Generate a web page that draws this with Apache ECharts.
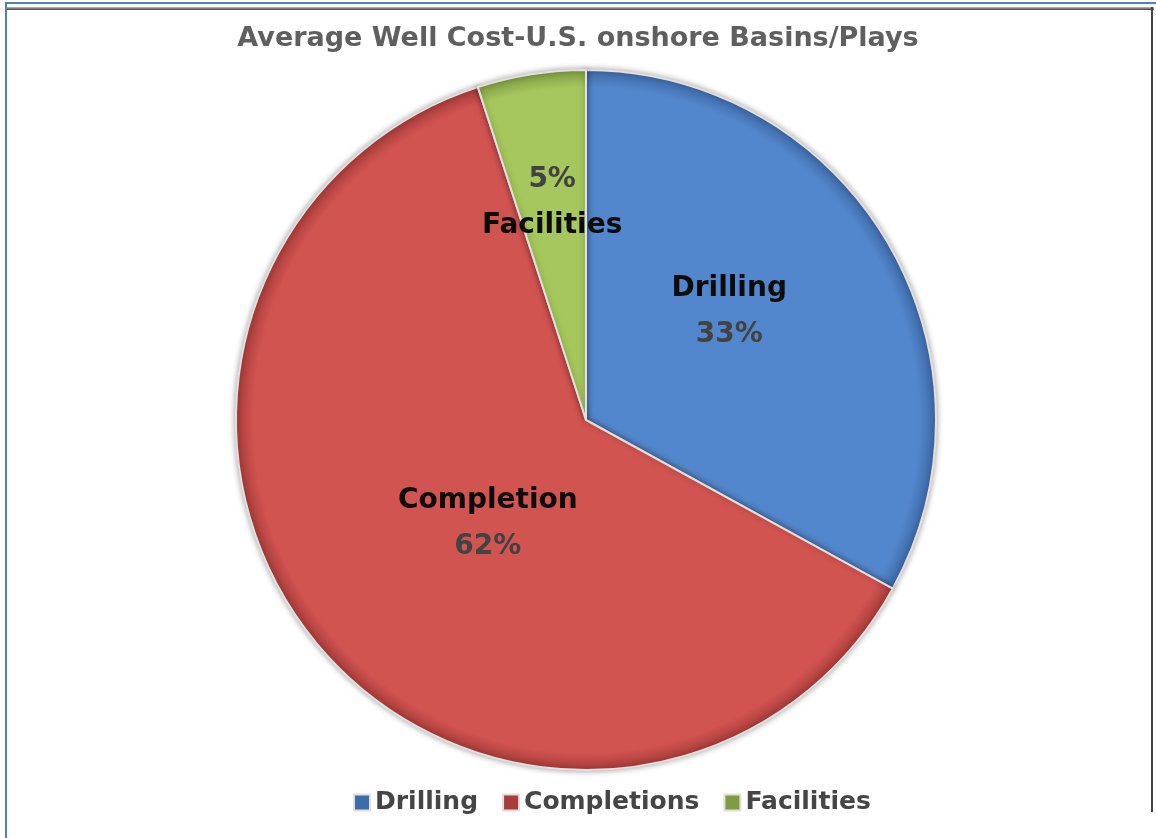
<!DOCTYPE html>
<html>
<head>
<meta charset="utf-8">
<script src="https://cdn.jsdelivr.net/npm/echarts@6/dist/echarts.min.js"></script>
<style>
  html, body { margin: 0; padding: 0; background: #ffffff; }
  #frame { position: absolute; left: 0; top: 0; width: 1156px; height: 838px; overflow: hidden; }
  #blueTop { position: absolute; left: 5px; top: 2px; width: 1151px; height: 2px; background: #4f81bd; }
  #blueLeft { position: absolute; left: 5px; top: 2px; width: 2px; height: 836px; background: #4f81bd; }
  #grayTop { position: absolute; left: 7px; top: 7px; width: 1147px; height: 3px;
             background: linear-gradient(#bdbdbd, #404040); }
  #grayRight { position: absolute; left: 1151px; top: 7px; width: 2px; height: 805px; background: #454545; }
  #chart { position: absolute; left: 0; top: 0; width: 1156px; height: 838px; }
</style>
</head>
<body>
<div id="frame">
  <div id="chart"></div>
  <div id="blueTop"></div>
  <div id="blueLeft"></div>
  <div id="grayTop"></div>
  <div id="grayRight"></div>
</div>
<script>
// Cost breakdown of an average onshore well
const legendNames = ['Drilling', 'Completions', 'Facilities'];
const sliceLabels = ['Drilling', 'Completion', 'Facilities'];
const shares = [33, 62, 5];
const titleText = 'Average Well Cost-U.S. onshore Basins/Plays';

const sliceColors = ['#5387cd', '#d25451', '#a6c75d'];
const rimColors = ['#3e6aa8', '#a83c3a', '#7f9c43'];
// label nudges away from the default mid-radius spot
const labelOffsets = [[-10, -18], [39, -10], [-6, -41]];

const FONT = '"DejaVu Sans", "Open Sans", sans-serif';

function sliceFill(i) {
  return {
    type: 'radial', x: 586, y: 420, r: 350, global: true,
    colorStops: [
      { offset: 0, color: sliceColors[i] },
      { offset: 0.95, color: sliceColors[i] },
      { offset: 1, color: rimColors[i] }
    ]
  };
}

const pieData = legendNames.map((name, i) => ({
  name: name,
  value: shares[i],
  itemStyle: { color: sliceFill(i) },
  label: {
    offset: labelOffsets[i],
    formatter: i === 2
      ? '{p|' + shares[i] + '%}\n{n|' + sliceLabels[i] + '}'
      : '{n|' + sliceLabels[i] + '}\n{p|' + shares[i] + '%}'
  }
}));

const chart = echarts.init(document.getElementById('chart'), null, { renderer: 'canvas' });
chart.setOption({
  backgroundColor: '#ffffff',
  animation: false,
  color: sliceColors,
  title: {
    text: titleText,
    left: 573,
    top: 20,
    textAlign: 'center',
    textStyle: { fontFamily: FONT, fontWeight: 'bold', fontSize: 27, color: '#5f5f5f' }
  },
  legend: {
    data: legendNames,
    bottom: 18,
    left: 348,
    itemWidth: 16,
    itemHeight: 16,
    itemGap: 24,
    icon: 'rect',
    textStyle: { fontFamily: FONT, fontWeight: 'bold', fontSize: 25, color: '#454545' }
  },
  series: [{
    type: 'pie',
    center: [586, 420],
    radius: [0, 350],
    startAngle: 90,
    clockwise: true,
    avoidLabelOverlap: false,
    itemStyle: {
      borderColor: '#e4dede',
      borderWidth: 2,
      shadowBlur: 6,
      shadowColor: 'rgba(0,0,0,0.35)'
    },
    emphasis: { disabled: true },
    labelLine: { show: false },
    label: {
      show: true,
      position: 'inside',
      fontFamily: FONT,
      rich: {
        n: { fontFamily: FONT, fontWeight: 'bold', fontSize: 28, color: '#0c0c0c', lineHeight: 46 },
        p: { fontFamily: FONT, fontWeight: 'bold', fontSize: 28, color: '#424242', lineHeight: 46 }
      }
    },
    data: pieData
  }]
});
</script>
</body>
</html>
